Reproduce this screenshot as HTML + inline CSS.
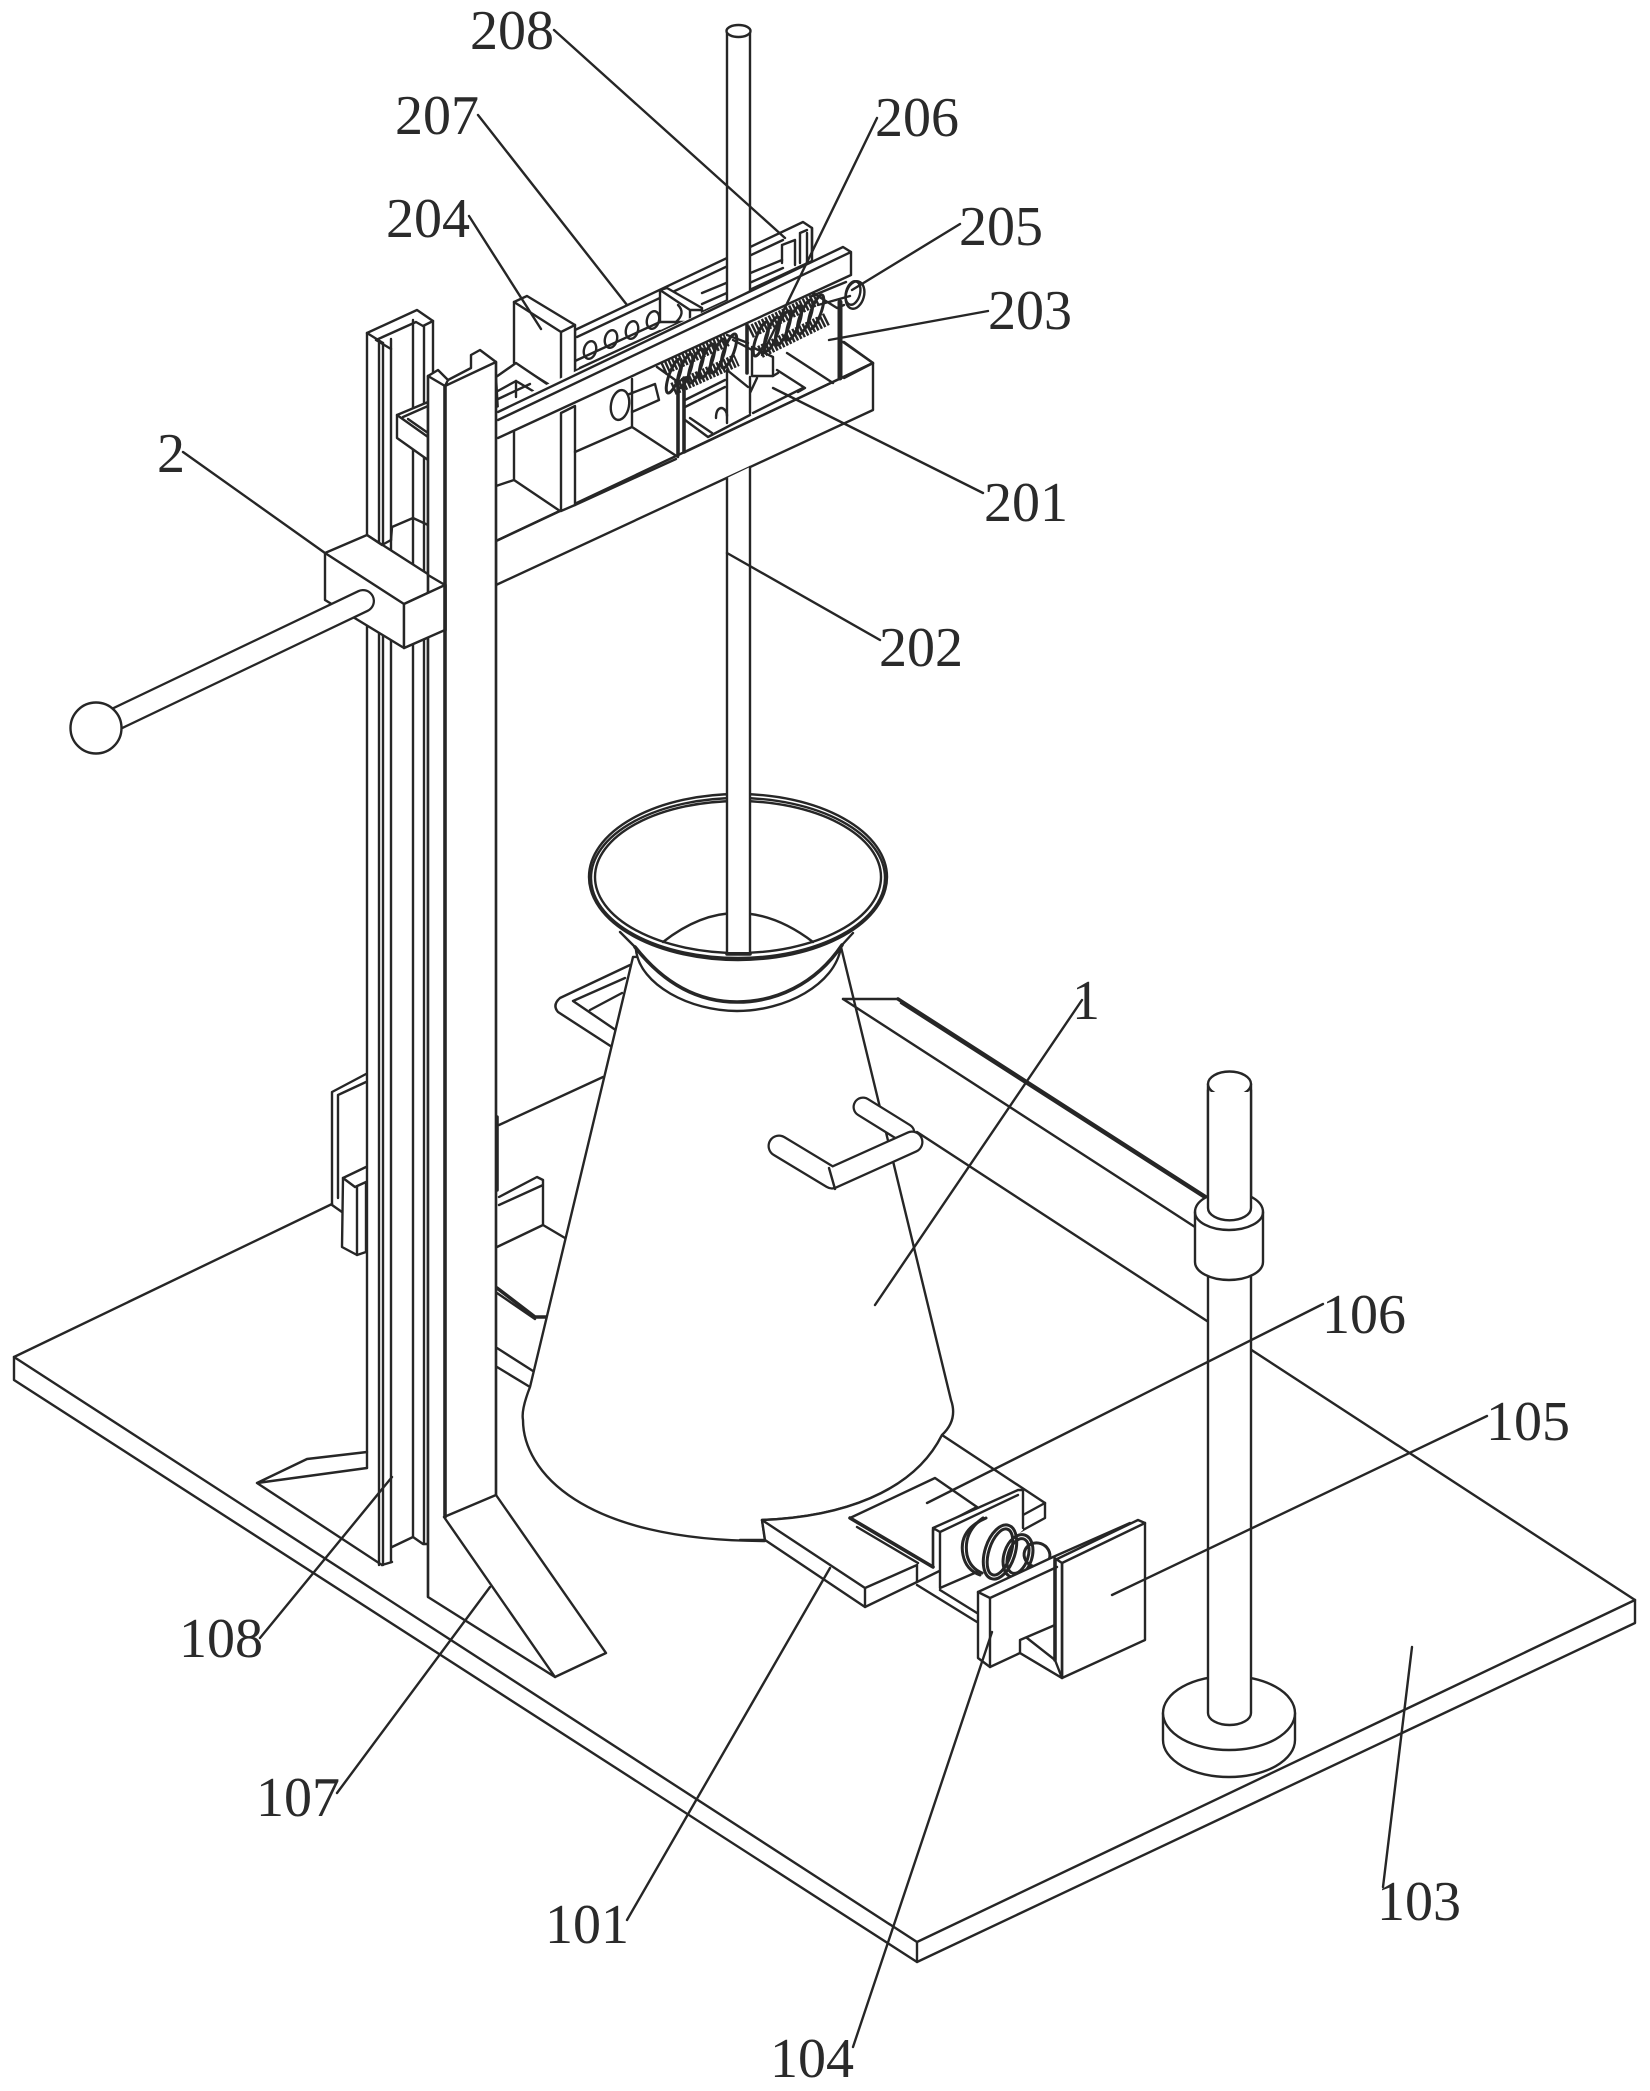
<!DOCTYPE html>
<html><head><meta charset="utf-8"><style>
html,body{margin:0;padding:0;background:#fff}
svg{display:block}
path,line,ellipse,circle,polyline,polygon{stroke:#262626;stroke-width:2.4;fill:none;stroke-linejoin:round;stroke-linecap:round}
.w{fill:#fff}
.t{stroke-width:3.6}
.s{stroke-width:3}
.h{stroke-width:13;stroke-dasharray:2.4 1.4;stroke-linecap:butt}
text{font-family:"Liberation Serif",serif;font-size:56px;fill:#2a2a2a}
</style></head><body>
<svg width="1650" height="2091" viewBox="0 0 1650 2091" xmlns="http://www.w3.org/2000/svg">
<rect width="1650" height="2091" fill="#fff"/>

<!-- base plate -->
<path class="w" d="M14,1357 L917,1942 L1635,1600 L1635,1623 L917,1962 L14,1380 Z"/>
<path d="M917,1942 V1962"/>
<path d="M14,1357 L332,1204 M499,1125 L603,1077"/>
<path d="M917,1132 L1635,1600"/>

<!-- things behind the cone on left -->
<path d="M499,1197 L537,1177 L543,1180 V1225 L565,1238 M499,1205 L543,1185 M497,1247 L543,1225"/>
<path class="t" d="M497,1288 L535,1317 L547,1317"/>
<path d="M497,1293 L535,1319"/>
<path d="M497,1348 L533,1371 M497,1367 L530,1387"/>
<path class="t" d="M497,1117 V1190"/>

<!-- back handle -->
<path d="M630,965 L560,998 Q552,1005 558,1012 L612,1047 M625,978 L573,1001 L620,1033 M622,993 L590,1010"/>

<!-- left-hand small bracket behind column -->
<path d="M366,1074 L332,1092 V1205 L342,1212 M366,1082 L338,1095 V1198 M366,1167 L343,1178"/>
<path class="w" d="M343,1178 L355,1187 L366,1182 V1252 L357,1255 L342,1247 Z"/>
<path d="M357,1187 V1255"/>

<!-- back column (C-channel) -->
<path d="M367,333 L417,310 L433,321 L423,326 L416,322 L376,340 L383,343 L367,333 M376,340 L391,349"/>
<path d="M367,333 V1468 M383,343 V1565 M379,343 V1565 M391,339 V1562 M413,320 V1537 M424,326 V1544 M433,321 V400 M428,460 V1544"/>
<path d="M392,1547 L413,1537 L423,1544 H428 M382,1565 L392,1562"/>
<path d="M392,527 L413,518 L428,525"/>
<!-- back column foot -->
<path d="M367,1452 L307,1459 L257,1483 L367,1468 M257,1483 L382,1565"/>

<!-- left crossbar stub -->
<path class="w" d="M397,415 L428,402 V460 L397,438 Z"/>
<path d="M397,415 L428,437 M403,417 L428,406 M408,419 L428,433"/>

<!-- slider block + handle -->
<path class="w" d="M325,553 L367,535 L445,585 V630 L404,648 L325,600 Z"/>
<path d="M367,535 L382,545 L391,540 M404,604 L325,553 M404,604 L445,585 M404,604 V648"/>
<path d="M392,527 L391,540"/>
<path style="stroke-width:24;stroke-linecap:round" d="M118,718 L363,601"/>
<path style="stroke-width:19.5;stroke:#fff;stroke-linecap:round" d="M118,718 L363,601"/>
<circle class="w" cx="96" cy="728" r="25.5"/>

<!-- frame behind -->
<path class="w" d="M496,541 L873,363 V410 L496,585 Z"/>
<path d="M496,486 L514,480 L560,511 M496,541 L560,511 M514,380 V480"/>

<!-- frame walls -->
<path class="w" d="M561,413 L575,406 V505 L561,511 Z"/>
<path d="M575,505 L676,459 M685,452 L873,363 L843,342 M575,452 L632,427 L678,457 M632,379 V427"/>
<path class="t" d="M678,382 V455 M684,378 V452"/>
<path d="M657,367 L678,382 L685,378"/>
<path d="M685,400 L725,380 M685,407 L725,387 M685,420 L708,437 M690,418 L712,433 M708,437 L750,415"/>
<path d="M716,418 Q716,408 722,408 Q727,410 727,416"/>
<path d="M727,370 V423 M727,335 L748,343 M727,370 L748,387 M750,377 V413 M757,378 L750,393"/>
<path class="t" d="M747,325 V373"/>
<path d="M777,370 L805,388 L798,392 M787,353 L833,383 M753,413 L803,388"/>
<path class="t" style="stroke-width:5" d="M840,302 V378"/>
<path d="M813,293 L837,308 L844,305 M844,342 L873,363 M844,378 L873,363"/>
<!-- pin 1 -->
<path d="M627,395 L655,384 M632,412 L659,400 L655,384"/>
<ellipse class="w" cx="620" cy="405" rx="9" ry="15" transform="rotate(10 620 405)"/>

<!-- back rail -->
<path class="w" d="M575,330 L803,222 L812,228 V261 L575,371 Z"/>
<path d="M577,337 L783,240 M575,361 L660,322 M580,368 L660,331"/>
<path d="M702,293 L782,260 M702,304 L783,268"/>
<path d="M782,245 V263 M795,240 V265 M782,245 L795,240 M800,233 V263 M807,233 V263 M800,233 L807,230 M812,228 V253"/>
<ellipse cx="590" cy="350" rx="6" ry="9" transform="rotate(15 590 350)"/>
<ellipse cx="611" cy="339" rx="6" ry="9" transform="rotate(15 611 339)"/>
<ellipse cx="632" cy="330" rx="6" ry="9" transform="rotate(15 632 330)"/>
<ellipse cx="653" cy="320" rx="6" ry="9" transform="rotate(15 653 320)"/>
<path class="w" d="M660,290 L667,288 L702,308 V317 L690,322 L660,322 Z"/>
<path d="M690,310 V322 M660,290 L690,310 H702"/>
<path d="M678,305 Q686,313 676,322"/>

<!-- post 204 -->
<path class="w" d="M514,302 L527,296 L575,325 V380 L561,392 L514,363 Z"/>
<path d="M514,302 L561,332 L575,325 M561,332 V392"/>

<!-- box left of post -->
<path class="w" d="M496,377 L516,363 L550,386 L498,412 Z"/>
<path d="M496,392 L516,381 L538,394 M496,400 L530,384 M516,381 V397"/>

<!-- rod top -->
<path class="w" d="M727,30 H750 V290 L727,302 Z" style="stroke:none"/>
<path d="M727,30 V310 M750,30 V292"/>
<ellipse class="w" cx="738.500" cy="31" rx="12" ry="6"/>

<!-- shaft & ring -->
<path d="M812,296 L846,282 M818,305 L850,296"/>
<ellipse cx="855" cy="295" rx="9" ry="14" transform="rotate(15 855 295)"/>
<ellipse cx="853" cy="293" rx="7" ry="12" transform="rotate(15 853 293)"/>

<!-- front rail -->
<path class="w" d="M428,440 L843,247 L851,252 V275 L445,463 Z" style="stroke:none"/>
<path d="M498,412 L843,247 L851,252 V275 M498,420 L851,252 M498,438 L851,275"/>

<!-- centre block -->
<path class="w" d="M752,347 L773,357 V376 H752 Z"/>
<path d="M733,340 L752,350 M773,376 L778,373"/>

<!-- springs -->
<path class="h" d="M663,369 L727,340 M673,389 L737,360"/>
<path class="h" d="M750,332 L817,299 M760,352 L827,319"/>
<g>
<ellipse class="s" cx="674" cy="376" rx="5" ry="18" transform="rotate(20 674 376)"/>
<ellipse class="s" cx="685" cy="371" rx="5" ry="18" transform="rotate(20 685 371)"/>
<ellipse class="s" cx="696" cy="366" rx="5" ry="18" transform="rotate(20 696 366)"/>
<ellipse class="s" cx="707" cy="361" rx="5" ry="18" transform="rotate(20 707 361)"/>
<ellipse class="s" cx="718" cy="356" rx="5" ry="18" transform="rotate(20 718 356)"/>
<ellipse class="s" cx="729" cy="351" rx="5" ry="18" transform="rotate(20 729 351)"/>
<ellipse class="s" cx="761" cy="339" rx="5" ry="18" transform="rotate(20 761 339)"/>
<ellipse class="s" cx="772" cy="334" rx="5" ry="18" transform="rotate(20 772 334)"/>
<ellipse class="s" cx="783" cy="328" rx="5" ry="18" transform="rotate(20 783 328)"/>
<ellipse class="s" cx="794" cy="323" rx="5" ry="18" transform="rotate(20 794 323)"/>
<ellipse class="s" cx="805" cy="317" rx="5" ry="18" transform="rotate(20 805 317)"/>
<ellipse class="s" cx="816" cy="312" rx="5" ry="18" transform="rotate(20 816 312)"/>
</g>

<!-- cone -->
<path class="w" d="M633,957 L530,1387 Q521,1410 523,1420 C523,1470 580,1541 765,1541 L762,1520 C840,1517 913,1493 942,1435 Q958,1420 951,1400 L841,947 Z"/>

<!-- pole with base -->
<path class="w" d="M1163,1713 V1740 A66,37 0 0 0 1295,1740 V1713 Z"/>
<ellipse class="w" cx="1229" cy="1713" rx="66" ry="37"/>
<path class="w" d="M1208,1084 V1713 A21.500,12 0 0 0 1251,1713 V1084 Z"/>
<ellipse class="w" cx="1229.500" cy="1084" rx="21.500" ry="12.500"/>

<!-- arm (no fill so cone edge shows through) -->
<path d="M843,999 L1195,1227"/>
<path d="M843,999 H898"/>
<path class="t" d="M898,999 L1206,1197"/>
<path d="M901,1003 L1208,1200"/>
<!-- collar -->
<path class="w" d="M1195,1212 A34,20 0 0 1 1263,1212 V1262 A34,18 0 0 1 1195,1262 Z"/>
<path d="M1195,1212 A34,18 0 0 0 1263,1212"/>
<path class="w" d="M1208,1092 V1208 A21,12 0 0 0 1251,1208 V1092" style="stroke:none"/>
<path d="M1208,1090 V1208 A21,12 0 0 0 1251,1208 V1090"/>

<!-- rod behind handle -->
<path style="stroke-width:21" d="M863,1107 L905,1133"/>
<path style="stroke-width:16.500;stroke:#fff" d="M863,1107 L905,1133"/>

<!-- handle on cone -->
<path style="stroke-width:23;stroke-linecap:round" d="M779,1146 L832,1178 L912,1142"/>
<path style="stroke-width:18.500;stroke:#fff;stroke-linecap:round" d="M779,1146 L832,1178 L912,1142"/>
<path d="M829,1168 L835,1189"/>

<!-- funnel -->
<path class="w" d="M620,930 L635,947 C640,985 690,1011 737,1011 C785,1011 835,985 841,947 L853,931 Z" style="stroke:none"/>
<path d="M636,950 C640,985 690,1011 737,1011 C785,1011 835,985 841,947"/>
<path class="t" d="M635,947 C665,985 700,1002 737,1002 C775,1002 815,985 842,945"/>
<path d="M620,932 L635,947 M853,933 L842,945"/>
<ellipse class="w" cx="738" cy="877" rx="149" ry="83"/>
<ellipse cx="738" cy="877" rx="143" ry="76"/>
<path d="M663,942 Q700,913 737,913 Q775,913 813,942"/>
<ellipse cx="738" cy="878" rx="147" ry="80"/>
<!-- rod over funnel -->
<path class="w" d="M727,478 V952 H750 V467" style="stroke:none"/>
<path d="M727,478 V952 M750,467 V952"/>
<path class="t" d="M727,954 H750"/>

<!-- front column -->
<path class="w" d="M428,376 L438,370 L448,380 L471,368 V355 L480,350 L496,362 V1495 L606,1653 L555,1677 L428,1597 Z"/>
<path d="M428,376 L445,386 L496,362 M448,380 L445,386"/>
<path class="t" d="M445,386 V1517"/>
<path d="M428,376 V1597 M496,362 V1495"/>
<path d="M444,1517 L555,1677 M444,1517 L496,1495"/>
<!-- slider block over front col left -->
<path class="w" d="M404,604 L445,585 V630 L404,648 Z" style="stroke:none"/>
<path d="M428,575 L445,585 M404,604 L445,585 M404,648 L445,630 M404,604 V648"/>
<path class="t" d="M445,585 V630"/>

<!-- bottom plate assembly -->
<path class="w" d="M762,1520 C840,1517 913,1493 942,1435 L1045,1503 V1518 L1023,1530 L917,1582 L865,1607 L765,1540 Z"/>
<path d="M765,1540 H740 M762,1520 L865,1588 L917,1565 M865,1588 V1607 M917,1565 V1582 M1023,1515 L1045,1503"/>
<path class="w" d="M850,1518 L935,1478 L977,1507 L933,1530 V1567 Z"/>
<path class="t" d="M850,1518 L933,1567"/>
<path d="M857,1527 L918,1563 M917,1585 L977,1622 M940,1590 L977,1613"/>
<path class="w" d="M933,1528 L1018,1490 H1023 V1530 L977,1572 L940,1588 V1532 Z" style="stroke:none"/>
<path d="M933,1528 L1018,1490 H1023 V1528 M940,1588 L977,1572 M940,1588 V1532 M940,1532 L1018,1495 M933,1528 L940,1532 M933,1528 V1567"/>
<path class="s" d="M986,1518 Q958,1530 963,1555 Q966,1570 980,1575"/>
<path class="s" d="M983,1518 Q963,1532 967,1555 Q970,1568 982,1573"/>
<ellipse class="s" cx="1000" cy="1552" rx="15" ry="28" transform="rotate(18 1000 1552)"/>
<ellipse class="s" cx="1000" cy="1552" rx="11" ry="24" transform="rotate(18 1000 1552)"/>
<ellipse class="s" cx="1018" cy="1556" rx="14" ry="22" transform="rotate(18 1018 1556)"/>
<ellipse class="s" cx="1018" cy="1556" rx="10" ry="18" transform="rotate(18 1018 1556)"/>
<ellipse class="s" cx="1037" cy="1555" rx="13" ry="12" transform="rotate(18 1037 1555)"/>
<!-- back plate -->
<path class="w" d="M1055,1560 L1138,1520 L1145,1523 V1640 L1062,1678 V1563 Z"/>
<path d="M1062,1563 L1145,1523 M1053,1557 L1130,1523"/>
<!-- front bracket -->
<path class="w" d="M978,1592 L1053,1557 L1062,1563 V1678 L1020,1653 L990,1667 L978,1658 Z"/>
<path d="M978,1592 L990,1598 L1057,1567 M990,1598 V1667"/>
<path class="w" d="M1020,1640 L1055,1625 V1660 L1062,1678 L1020,1653 Z"/>
<path d="M1027,1638 L1055,1660"/>
<path class="t" d="M1055,1560 V1660"/>
<path d="M1062,1563 V1678"/>

<!-- leaders -->
<path d="M554,30 L785,238 M478,115 L627,305 M469,216 L541,329 M877,118 L762,355 M960,224 L852,290 M988,311 L829,340 M983,493 L773,388 M880,640 L727,553 M183,452 L325,553 M1082,1000 L875,1305 M1323,1304 L927,1503 M1487,1416 L1112,1595 M1412,1647 L1383,1887 M992,1632 L853,2047 M830,1568 L627,1920 M490,1587 L337,1793 M392,1477 L260,1638"/>

<!-- labels -->
<text x="470" y="49">208</text>
<text x="395" y="134">207</text>
<text x="386" y="237">204</text>
<text x="875" y="136">206</text>
<text x="959" y="245">205</text>
<text x="988" y="329">203</text>
<text x="984" y="521">201</text>
<text x="879" y="666">202</text>
<text x="157" y="472">2</text>
<text x="1072" y="1019">1</text>
<text x="1322" y="1333">106</text>
<text x="1486" y="1440">105</text>
<text x="1377" y="1920">103</text>
<text x="770" y="2077">104</text>
<text x="545" y="1943">101</text>
<text x="256" y="1816">107</text>
<text x="179" y="1657">108</text>
</svg>
</body></html>
